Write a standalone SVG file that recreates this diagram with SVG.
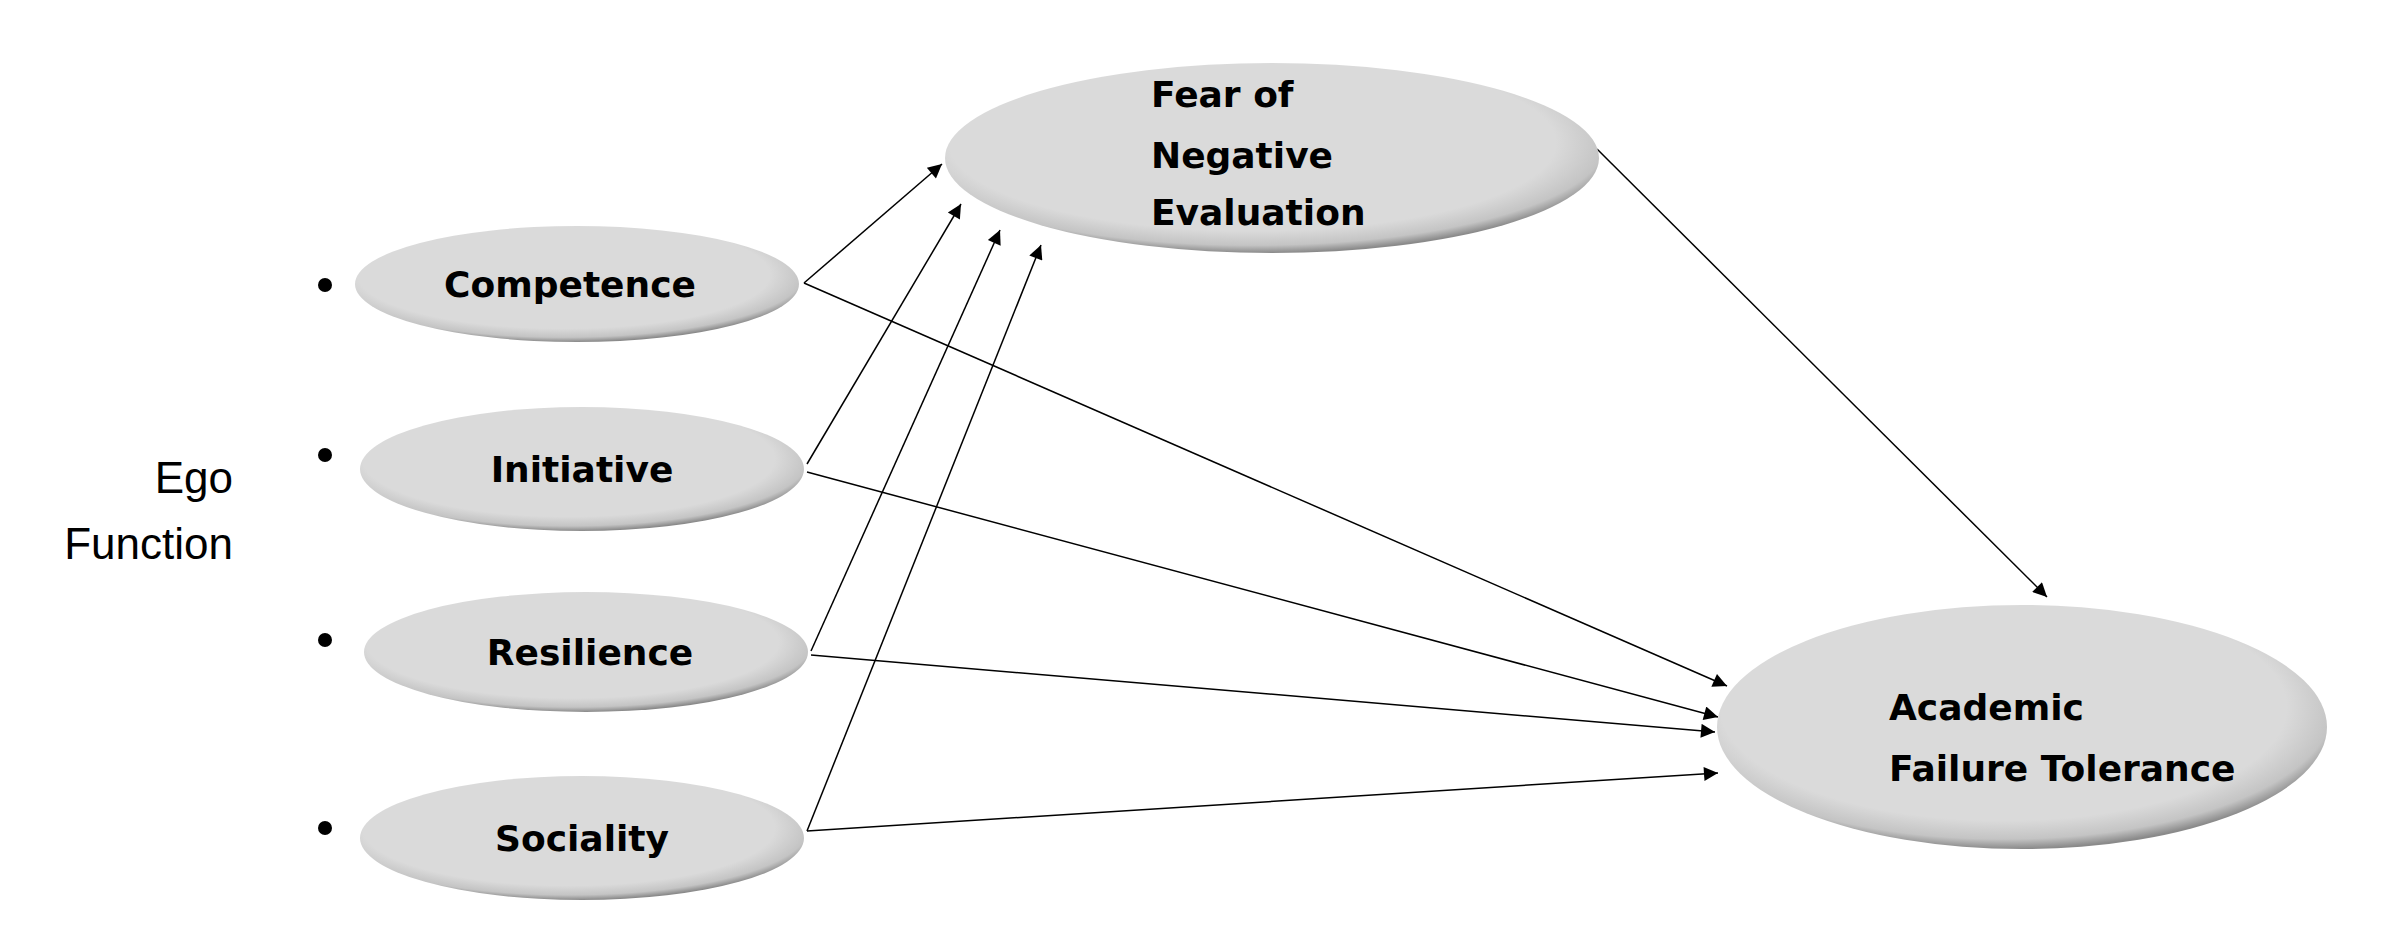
<svg xmlns="http://www.w3.org/2000/svg" width="2400" height="931" viewBox="0 0 2400 931">
<defs>
<radialGradient id="g" cx="0.47" cy="0.42" r="0.58">
<stop offset="0.8" stop-color="#dadada"/>
<stop offset="0.93" stop-color="#c4c4c4"/>
<stop offset="1" stop-color="#8a8a8a"/>
</radialGradient>
<marker id="ah" viewBox="0 0 10 10" refX="10" refY="5" markerWidth="18" markerHeight="14" markerUnits="userSpaceOnUse" orient="auto">
<path d="M0,0 L10,5 L0,10 z" fill="#000"/>
</marker>
<style>
.n{fill:url(#g)}
.t{font-family:"DejaVu Sans",sans-serif;font-weight:bold;font-size:36px;fill:#000}
.c line{stroke:#000;stroke-width:1.5;marker-end:url(#ah)}
.e{font-family:"Liberation Sans",sans-serif;font-size:44px;fill:#000}
</style>
</defs>
<rect width="2400" height="931" fill="#fff"/>
<g id="label"><text class="e" x="233" y="493" text-anchor="end">Ego</text><text class="e" x="233" y="559" text-anchor="end">Function</text></g>
<g id="bullets"><circle cx="325" cy="285" r="7"/><circle cx="325" cy="455" r="7"/><circle cx="325" cy="640" r="7"/><circle cx="325" cy="828" r="7"/></g>
<g class="c" id="connectors">
<line x1="804" y1="283" x2="942" y2="164"/>
<line x1="804" y1="283" x2="1727" y2="686"/>
<line x1="807" y1="464" x2="961" y2="204"/>
<line x1="807" y1="472" x2="1718" y2="717"/>
<line x1="811" y1="651" x2="1000" y2="230"/>
<line x1="811" y1="655" x2="1715" y2="732"/>
<line x1="807" y1="831" x2="1041" y2="245"/>
<line x1="807" y1="831" x2="1718" y2="773"/>
<line x1="1597" y1="149" x2="2047" y2="597"/>
</g>
<g id="fear"><ellipse class="n" cx="1272" cy="158" rx="327" ry="95"/><text class="t" x="1151" y="107">Fear of</text><text class="t" x="1151" y="168">Negative</text><text class="t" x="1151" y="225">Evaluation</text></g>
<g id="competence"><ellipse class="n" cx="577" cy="284" rx="222" ry="58"/><text class="t" x="570" y="297" text-anchor="middle">Competence</text></g>
<g id="initiative"><ellipse class="n" cx="582" cy="469" rx="222" ry="62"/><text class="t" x="582" y="482" text-anchor="middle">Initiative</text></g>
<g id="resilience"><ellipse class="n" cx="586" cy="652" rx="222" ry="60"/><text class="t" x="590" y="665" text-anchor="middle">Resilience</text></g>
<g id="sociality"><ellipse class="n" cx="582" cy="838" rx="222" ry="62"/><text class="t" x="582" y="851" text-anchor="middle">Sociality</text></g>
<g id="academic"><ellipse class="n" cx="2022" cy="727" rx="305" ry="122"/><text class="t" x="1889" y="720">Academic</text><text class="t" x="1889" y="781">Failure Tolerance</text></g>
</svg>
